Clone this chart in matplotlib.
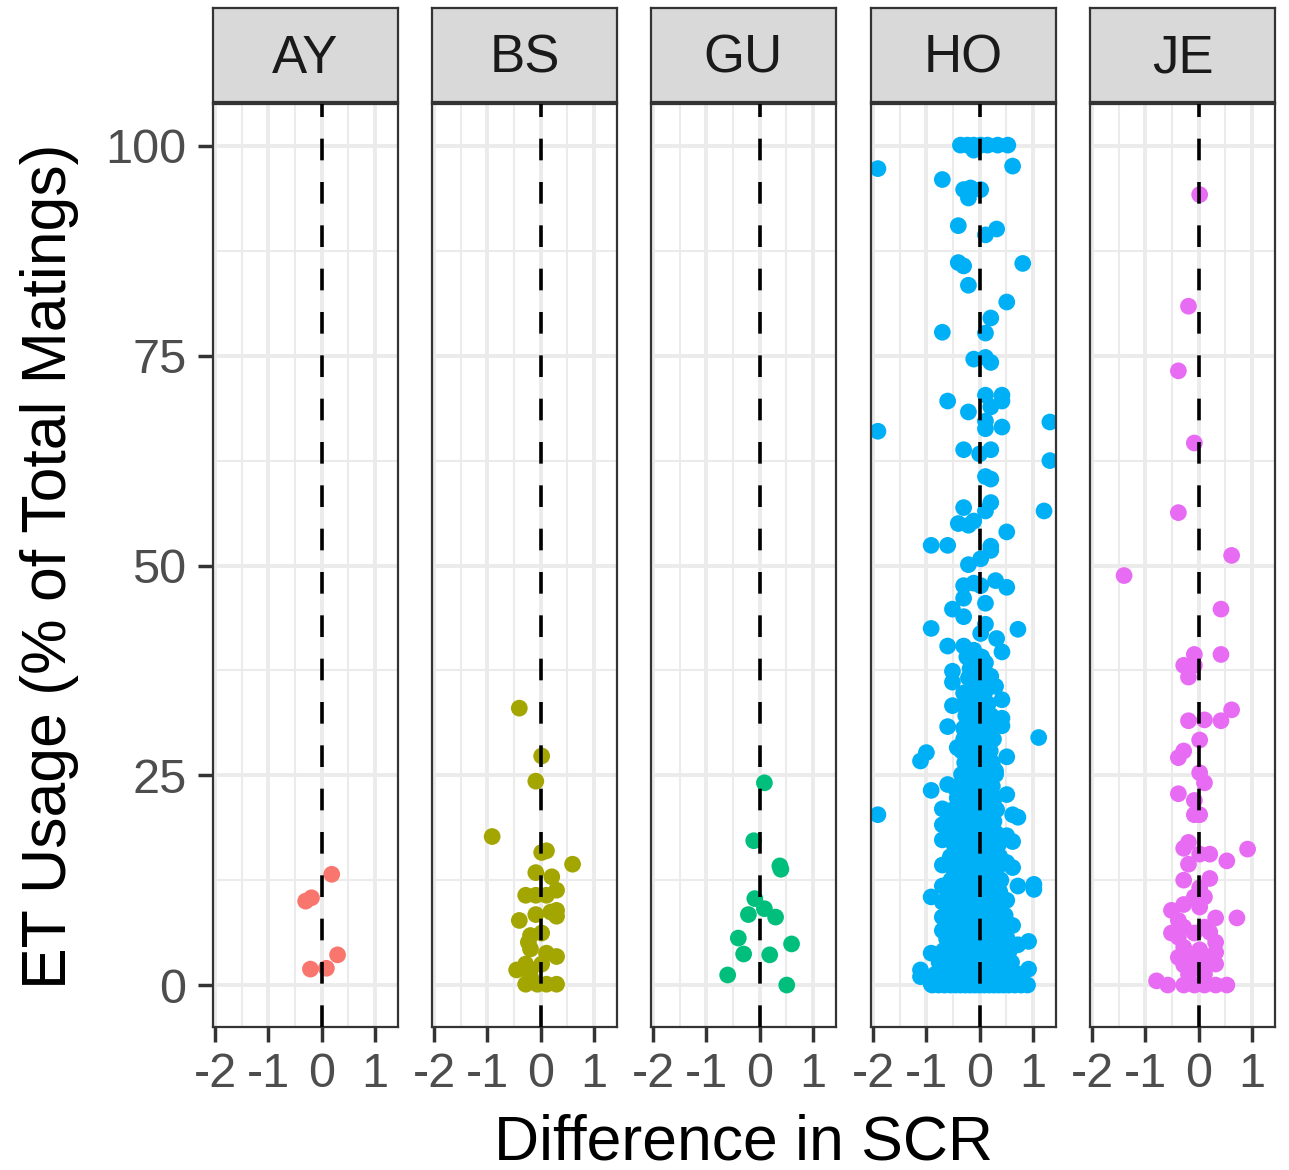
import matplotlib
matplotlib.use("Agg")
import matplotlib.pyplot as plt
import numpy as np

plt.rcParams['font.family'] = ['Liberation Sans', 'DejaVu Sans']
plt.rcParams['axes.unicode_minus'] = False

groups = ['AY', 'BS', 'GU', 'HO', 'JE']
colors = ['#F8766D', '#A3A500', '#00BF7D', '#00B0F6', '#E76BF3']

# difference in SCR (x) and ET usage % (y)
ay_x = [0.19, -0.30, -0.19, 0.30, -0.21, 0.09]
ay_y = [13.2, 10.0, 10.4, 3.6, 1.9, 2.0]

bs_x = [-0.40, 0.02, -0.09, -0.91, 0.02, 0.11, 0.60, -0.09, 0.21, 0.30, -0.28, -0.09, 0.11,
        0.30, 0.19, -0.09, -0.40, 0.30, 0.02, -0.19, -0.23, -0.19, 0.11, 0.30, -0.28, 0.02,
        -0.45, -0.19, -0.28, -0.06, 0.11, 0.30, -0.19]
bs_y = [33.0, 27.3, 24.3, 17.7, 15.8, 16.0, 14.4, 13.4, 12.9, 11.3, 10.7, 10.7, 10.7,
        8.9, 8.7, 8.4, 7.7, 8.2, 6.2, 5.9, 5.1, 4.3, 3.8, 3.4, 2.5, 2.5,
        1.8, 1.8, 0.1, 0.1, 0.1, 0.1, 1.0]

gu_x = [0.09, -0.11, 0.38, 0.40, -0.09, 0.09, -0.21, 0.30, -0.40, 0.60, -0.30, 0.19, -0.60, 0.51]
gu_y = [24.1, 17.2, 14.2, 13.8, 10.3, 9.1, 8.4, 8.1, 5.6, 4.9, 3.7, 3.6, 1.2, 0.0]

je_x = [0.02, -0.19, -0.38, -0.08, -0.38, 0.62, -1.40, 0.42, -0.08, 0.42, -0.28, -0.08,
        -0.19, 0.62, -0.19, 0.11, 0.42, 0.02, -0.28, -0.38, 0.02, 0.11, -0.38, -0.08,
        -0.08, 0.02, -0.28, -0.19, 0.02, 0.21, 0.92, 0.53, -0.19, -0.28, 0.21, 0.02,
        -0.08, 0.11, -0.28, 0.02, -0.51, 0.32, 0.72, -0.38, -0.28, 0.11, -0.51, -0.08,
        0.21, -0.38, 0.32, -0.28, 0.02, 0.32, -0.38, -0.08, 0.21, -0.28, 0.02, 0.32,
        -0.19, 0.11, -0.79, -0.58, -0.28, -0.08, 0.11, 0.32, 0.53]
je_y = [94.2, 80.9, 73.2, 64.6, 56.3, 51.2, 48.8, 44.8, 39.4, 39.4, 38.1, 38.1,
        36.7, 32.8, 31.5, 31.6, 31.5, 29.2, 27.9, 27.1, 25.3, 24.1, 22.8, 22.0,
        20.3, 20.3, 16.3, 17.0, 15.6, 15.6, 16.2, 14.8, 14.4, 12.5, 12.7, 11.6,
        10.5, 10.5, 9.6, 9.3, 8.9, 8.0, 8.0, 7.7, 6.9, 6.9, 6.2, 6.2,
        6.3, 5.7, 5.1, 4.5, 4.2, 3.9, 3.3, 3.3, 3.1, 2.4, 2.4, 2.5,
        1.3, 1.3, 0.5, 0.0, 0.0, 0.0, 0.0, 0.0, 0.0]

# HO: scattered points
ho_x = [-0.36, -0.23, -0.11, 0.02, 0.15, 0.34, 0.53, -0.11, -1.91, 0.62, -0.70, -0.30,
        -0.17, 0.02, -0.21, -0.40, 0.11, 0.32, -0.40, -0.30, 0.81, -0.21, 0.51, 0.21,
        -0.70, 0.11, -0.11, 0.11, 0.21, -0.60, 0.11, 0.42, 0.42, 0.21, -0.21, 0.11,
        0.11, 0.42, -1.91, 1.32, -0.30, 0.21, 0.00, 1.32, 0.11, 0.21, 0.21, 0.11,
        -0.30, 1.21, -0.40, -0.21, -0.11, 0.51, -0.91, -0.60, 0.21, 0.21, -0.21, 0.02,
        0.30, 0.51, -0.30, -0.11, 0.02, -0.30, 0.11, -0.51, -0.30, -0.91, 0.72, 0.11,
        0.02, -0.60, -0.30, -0.11, 0.32, 0.42, 0.11, -0.11, -0.51, -0.51, 0.21, 0.30,
        -0.21, -0.30, -0.11, 0.42, -0.51, -0.30, 0.42, 0.42, -0.60, -0.30, -0.11, 0.15,
        1.11, 0.11, -0.42, -0.21, -1.00, -1.11, 0.51, 0.21, 0.30, -0.60, -0.91, -0.45,
        0.51, -1.91, 0.72, 0.62, -0.70, -0.70, -0.70, 0.62, 0.51, -0.70, 0.51, 0.62,
        1.02, 1.02, 0.72, -0.60, -0.70, -0.91, -0.70, 0.51, -0.70, -0.70, 0.62, 0.92,
        0.72, -0.91, -1.11, -1.11, 0.92, -0.91]
ho_y = [100.1, 100.1, 100.1, 100.1, 100.1, 100.1, 100.1, 99.5, 97.3, 97.6, 96.0, 94.8,
        95.0, 94.8, 93.8, 90.5, 89.4, 90.1, 86.1, 85.7, 86.0, 83.4, 81.4, 79.5,
        77.8, 77.7, 74.6, 74.8, 74.2, 69.6, 70.3, 70.3, 69.6, 68.9, 68.3, 67.2,
        66.3, 66.5, 66.0, 67.1, 63.8, 63.8, 63.3, 62.5, 60.6, 60.3, 57.5, 56.5,
        56.9, 56.5, 55.0, 54.8, 55.3, 54.0, 52.4, 52.4, 52.3, 51.8, 50.1, 50.8,
        48.2, 47.4, 47.6, 47.9, 47.6, 46.1, 45.5, 44.8, 43.9, 42.5, 42.4, 43.0,
        41.9, 40.4, 40.4, 39.9, 41.3, 39.7, 38.4, 38.7, 37.4, 36.1, 36.8, 35.6,
        36.6, 34.8, 34.6, 34.0, 33.3, 33.4, 31.8, 30.9, 30.8, 30.6, 30.9, 31.2,
        29.5, 29.1, 28.3, 28.9, 27.7, 26.7, 27.2, 26.2, 25.5, 23.9, 23.2, 23.4,
        22.7, 20.3, 20.0, 20.3, 21.0, 19.1, 17.3, 17.1, 17.8, 14.3, 14.6, 14.0,
        12.0, 11.4, 11.8, 12.0, 11.8, 10.5, 9.9, 10.1, 8.1, 6.5, 7.1, 5.2,
        4.8, 3.8, 1.8, 1.0, 1.9, 0.1]

# HO: dense core near zero, one row of x values per usage level
ho_core_y = [0.0, 1.3, 2.7, 4.1, 5.5, 6.9, 8.3, 9.7, 11.1, 12.5, 13.9, 15.3, 16.7, 18.1,
             19.5, 20.9, 22.3, 23.7, 25.1, 26.5, 27.9, 29.3, 30.7, 32.1, 33.5, 34.9,
             36.3, 37.7, 39.1]
ho_core_x = [
    [-0.89, -0.77, -0.66, -0.55, -0.45, -0.36, -0.27, -0.18, -0.09, 0.0, 0.09, 0.18, 0.27,
     0.36, 0.45, 0.55, 0.66, 0.78, 0.90],
    [-0.83, -0.70, -0.58, -0.46, -0.35, -0.24, -0.13, -0.03, 0.07, 0.17, 0.28, 0.39, 0.50,
     0.62, 0.74],
    [-0.76, -0.62, -0.50, -0.38, -0.27, -0.16, -0.05, 0.05, 0.15, 0.26, 0.37, 0.48, 0.60],
    [-0.68, -0.55, -0.43, -0.31, -0.20, -0.09, 0.02, 0.12, 0.23, 0.34, 0.46, 0.56],
    [-0.62, -0.50, -0.38, -0.27, -0.15, -0.04, 0.07, 0.18, 0.29, 0.40, 0.52],
    [-0.58, -0.45, -0.33, -0.22, -0.11, 0.0, 0.11, 0.22, 0.33, 0.45],
    [-0.55, -0.42, -0.30, -0.18, -0.07, 0.04, 0.15, 0.27, 0.39, 0.48],
    [-0.52, -0.40, -0.28, -0.16, -0.05, 0.06, 0.17, 0.29, 0.42],
    [-0.56, -0.43, -0.31, -0.19, -0.08, 0.03, 0.14, 0.26, 0.38],
    [-0.54, -0.41, -0.29, -0.17, -0.06, 0.05, 0.16, 0.28, 0.40],
    [-0.50, -0.37, -0.25, -0.13, -0.02, 0.09, 0.21, 0.33],
    [-0.55, -0.42, -0.30, -0.18, -0.07, 0.04, 0.16, 0.28, 0.38],
    [-0.48, -0.35, -0.23, -0.11, 0.0, 0.12, 0.24, 0.35],
    [-0.52, -0.40, -0.28, -0.16, -0.05, 0.07, 0.19, 0.31],
    [-0.60, -0.46, -0.33, -0.21, -0.09, 0.03, 0.15, 0.27],
    [-0.50, -0.37, -0.25, -0.13, -0.01, 0.11, 0.23, 0.32],
    [-0.42, -0.30, -0.18, -0.06, 0.06, 0.18, 0.28],
    [-0.40, -0.28, -0.15, -0.02, 0.12, 0.24],
    [-0.34, -0.20, -0.06, 0.06, 0.18, 0.30],
    [-0.28, -0.14, 0.0, 0.12, 0.24],
    [-0.34, -0.20, -0.06, 0.06, 0.20],
    [-0.30, -0.16, 0.0, 0.12, 0.26],
    [-0.24, -0.10, 0.04, 0.18],
    [-0.26, -0.14, -0.02, 0.10, 0.22],
    [-0.20, -0.08, 0.04, 0.16],
    [-0.14, -0.02, 0.10],
    [-0.08, 0.04, 0.14],
    [-0.18, -0.04, 0.08],
    [-0.24, -0.10, 0.04],
]

for yv, row in zip(ho_core_y, ho_core_x):
    ho_x = ho_x + row
    ho_y = ho_y + [yv] * len(row)

data = {
    'AY': (ay_x, ay_y),
    'BS': (bs_x, bs_y),
    'GU': (gu_x, gu_y),
    'HO': (ho_x, ho_y),
    'JE': (je_x, je_y),
}

W, H = 1289, 1170
fig = plt.figure(figsize=(W / 100, H / 100), dpi=100)

lefts = [213, 432, 651, 871, 1090]
pw = 185
top, bottom = 104, 1027
strip_top, strip_bot = 8, 102

for i, g in enumerate(groups):
    ax = fig.add_axes([lefts[i] / W, (H - bottom) / H, pw / W, (bottom - top) / H])
    ax.set_facecolor('white')
    ax.set_xlim(-2.04, 1.435)
    ax.set_ylim(-5, 105)
    ax.set_xticks([-2, -1, 0, 1])
    ax.set_xticks([-1.5, -0.5, 0.5], minor=True)
    ax.set_yticks([0, 25, 50, 75, 100])
    ax.set_yticks([12.5, 37.5, 62.5, 87.5], minor=True)
    ax.grid(which='major', color='#EBEBEB', lw=2.8, zorder=0)
    ax.grid(which='minor', color='#EBEBEB', lw=1.5, zorder=0)
    ax.set_axisbelow(True)

    x, y = data[g]
    ax.scatter(x, y, s=145, color=colors[i], edgecolors='none', zorder=2)
    ax.axvline(0, color='black', lw=2.6, dashes=(6.0, 6.0), zorder=3)

    for sp in ax.spines.values():
        sp.set_color('#333333')
        sp.set_linewidth(1.6)
    ax.tick_params(axis='x', which='major', length=11, width=2.5, color='#333333',
                   labelsize=35, labelcolor='#4D4D4D', pad=7)
    ax.tick_params(which='minor', length=0)
    if i == 0:
        ax.tick_params(axis='y', which='major', length=11, width=2.5, color='#333333',
                       labelsize=35, labelcolor='#4D4D4D', pad=8)
    else:
        ax.tick_params(axis='y', which='major', length=0, labelleft=False)

    # facet strip
    sax = fig.add_axes([lefts[i] / W, (H - strip_bot) / H, pw / W, (strip_bot - strip_top) / H])
    sax.set_facecolor('#D9D9D9')
    sax.set_xticks([])
    sax.set_yticks([])
    for sp in sax.spines.values():
        sp.set_color('#333333')
        sp.set_linewidth(1.6)
    sax.text(0.5, 0.31, g, ha='center', va='baseline', fontsize=38, color='#1A1A1A',
             transform=sax.transAxes)

fig.text(50 / W, 1 - 566 / H, 'ET Usage (% of Total Matings)', rotation=90,
         ha='center', va='center', fontsize=45, color='black')
fig.text(744 / W, 1 - 1143 / H, 'Difference in SCR', ha='center', va='center',
         fontsize=45, color='black')

fig.savefig('out.png', dpi=100, facecolor='white')
